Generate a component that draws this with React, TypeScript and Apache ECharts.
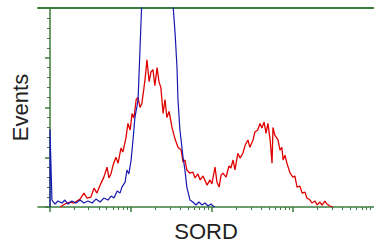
import React, { useEffect, useRef } from "react";
import * as echarts from "echarts";

// Channel (0..1023, 4 log decades) vs events (0..100)
const blueCh = [0, 0, 3, 6, 16, 25, 38, 47, 57, 69, 82, 95, 107, 120, 133, 145, 158, 170, 183, 193, 202, 212, 221, 227, 237, 243, 249, 256, 262, 268, 275, 278, 284, 290, 300, 331, 363, 385, 395, 401, 404, 410, 420, 426, 432, 442, 451, 461, 470, 480, 489, 499, 508, 515, 521];
const blueVal = [0, 39, 21, 3.5, 1.5, 3, 2, 3.5, 1.5, 3, 2, 3.5, 2, 3, 2, 4, 2.5, 4.5, 3.5, 5.5, 4.5, 8, 7, 10, 12.5, 18.6, 16.6, 23.6, 33.7, 45, 51, 54, 79, 104, 129, 150, 140, 109, 87, 70, 54, 39, 25, 18.6, 10, 3.5, 2.5, 1, 2.5, 1, 2, 0.5, 1.5, 0.5, 0];

const redCh = [32, 47, 63, 76, 85, 95, 107, 117, 129, 139, 148, 161, 170, 180, 186, 193, 199, 208, 215, 224, 230, 240, 246, 253, 259, 265, 272, 278, 284, 290, 300, 306, 313, 319, 325, 331, 338, 344, 350, 357, 363, 369, 376, 385, 395, 404, 414, 420, 426, 432, 442, 451, 458, 467, 474, 483, 496, 505, 511, 521, 527, 534, 540, 546, 556, 565, 571, 578, 584, 593, 600, 609, 616, 625, 631, 641, 647, 656, 663, 669, 676, 682, 688, 695, 701, 704, 710, 720, 726, 732, 736, 742, 748, 758, 767, 773, 780, 789, 796, 805, 811, 821, 827, 837, 843, 852, 859, 868, 874, 884, 893];
const redVal = [0, 1.5, 2.5, 2, 3, 4, 7, 4.5, 5, 9.5, 7, 12, 15, 20, 14.6, 17, 21, 25, 22, 29.6, 27.6, 35, 42, 38.7, 47, 44.7, 54, 55, 50, 52, 64, 74, 63, 68, 69, 61, 70, 63, 60, 47, 54, 45, 48, 40, 34, 30, 28.6, 22.6, 23.6, 18.6, 17, 17.6, 14.6, 16.6, 13.6, 15.6, 11, 13.6, 11.6, 20, 12.6, 10, 16, 17, 15, 20.6, 19.6, 23.6, 18.6, 27, 24.6, 27, 31, 33.7, 30, 33.7, 37.7, 38.7, 42, 39.7, 42.7, 37, 42, 33.7, 22, 40, 36, 33.7, 28.6, 30, 23.6, 26, 22, 17, 15, 15.6, 10, 10.5, 7, 7.5, 4.5, 3.5, 2, 3, 1, 2.5, 1, 3, 1.5, 0.5, 0];

const majorTicks = [0, 256, 512, 768];
const minorTicks: number[] = [];
for (let d = 0; d < 4; d++) {
  for (let k = 2; k <= 9; k++) {
    const v = 256 * (d + Math.log10(k));
    if (v <= 1023) minorTicks.push(v);
  }
}

const xTitle = "SORD";
const yTitle = "Events";

const GREEN = "#3d7d3d";

export default function App() {
  const ref = useRef<HTMLDivElement>(null);
  useEffect(() => {
    if (!ref.current) return;
    const chart = echarts.init(ref.current, undefined, { renderer: "svg" });
    const zip = (a: number[], b: number[]) => a.map((x, i) => [x, b[i]]);
    const baseX = {
      type: "value" as const,
      min: -38,
      max: 1023,
      splitLine: { show: false },
      axisLabel: { show: false },
    };
    chart.setOption({
      animation: false,
      grid: { left: 38, right: 0, top: 8, bottom: 42, containLabel: false, outerBoundsMode: "none" },
      xAxis: [
        {
          ...baseX,
          position: "bottom",
          axisLine: { show: true, onZero: false, lineStyle: { color: GREEN, width: 1.5 } },
          axisTick: { show: true, length: 5, customValues: majorTicks, lineStyle: { color: GREEN, width: 1.5 } },
          name: xTitle,
          nameLocation: "middle",
          nameGap: 13,
          nameTextStyle: { fontFamily: "Liberation Sans, Arial, sans-serif", fontSize: 22, color: "#222" },
        },
        {
          ...baseX,
          position: "bottom",
          axisLine: { show: false, onZero: false },
          axisTick: { show: true, length: 3, customValues: minorTicks, lineStyle: { color: GREEN, width: 1 } },
        },
        {
          ...baseX,
          position: "top",
          axisLine: { show: true, onZero: false, lineStyle: { color: GREEN, width: 2 } },
          axisTick: { show: false },
        },
      ],
      yAxis: {
        type: "value",
        min: 0,
        max: 100,
        interval: 25,
        splitLine: { show: false },
        axisLabel: { show: false },
        axisLine: { show: true, onZero: true, onZeroAxisIndex: 0, lineStyle: { color: GREEN, width: 1.5 } },
        axisTick: { show: true, length: 5, lineStyle: { color: GREEN, width: 1.5 } },
        minorTick: { show: true, splitNumber: 5, length: 3, lineStyle: { color: GREEN, width: 1 } },
        name: yTitle,
        nameLocation: "middle",
        nameGap: 7,
        nameRotate: 90,
        nameTextStyle: { fontFamily: "Liberation Sans, Arial, sans-serif", fontSize: 22, color: "#222" },
      },
      series: [
        {
          type: "line",
          xAxisIndex: 0,
          data: zip(redCh, redVal),
          showSymbol: false,
          clip: true,
          lineStyle: { color: "#e00000", width: 1.3 },
        },
        {
          type: "line",
          xAxisIndex: 0,
          data: zip(blueCh, blueVal),
          showSymbol: false,
          clip: true,
          lineStyle: { color: "#1818b0", width: 1.2 },
        },
      ],
    });
    return () => chart.dispose();
  }, []);
  return <div ref={ref} style={{ width: 374, height: 249, position: "absolute", left: 0, top: 0 }} />;
}
